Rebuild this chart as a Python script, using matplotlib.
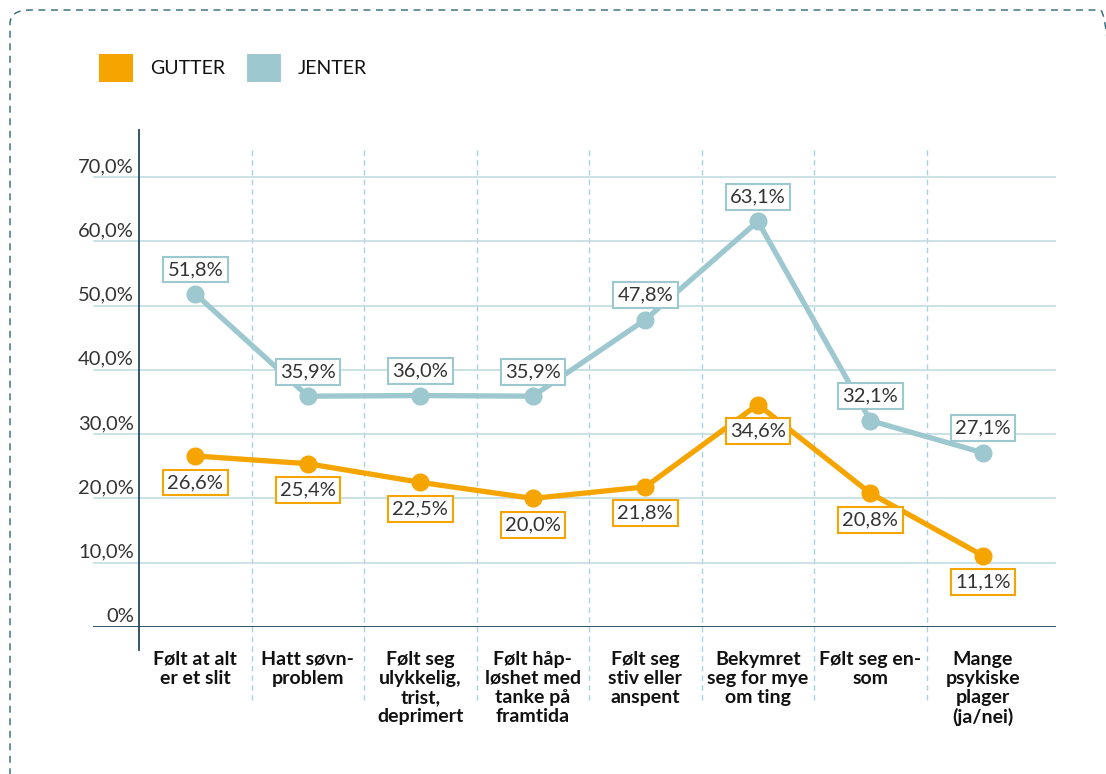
import numpy as np
import matplotlib
matplotlib.use("Agg")
import matplotlib.pyplot as plt
from matplotlib.patches import Rectangle, FancyBboxPatch
from matplotlib.transforms import ScaledTranslation

plt.rcParams['font.family'] = ['Lato', 'DejaVu Sans']

# ============================================================
# Data
# ============================================================

categories = [
    "Følt at alt\ner et slit",
    "Hatt søvn-\nproblem",
    "Følt seg\nulykkelig,\ntrist,\ndeprimert",
    "Følt håp-\nløshet med\ntanke på\nframtida",
    "Følt seg\nstiv eller\nanspent",
    "Bekymret\nseg for mye\nom ting",
    "Følt seg en-\nsom",
    "Mange\npsykiske\nplager\n(ja/nei)",
]
gutter = [26.6, 25.4, 22.5, 20.0, 21.8, 34.6, 20.8, 11.1]
jenter = [51.8, 35.9, 36.0, 35.9, 47.8, 63.1, 32.1, 27.1]
series_names = ["GUTTER", "JENTER"]
y_ticks = [0, 10, 20, 30, 40, 50, 60, 70]
y_tick_labels = ["0%", "10,0%", "20,0%", "30,0%", "40,0%", "50,0%", "60,0%", "70,0%"]

ORANGE = "#F6A500"
BLUE = "#9DC8CF"
DARK = "#24495A"
GRID = "#C3DDE3"
SEP = "#A9D3DB"
TXT = "#333333"

def fmt(v):
    return f"{v:.1f}%".replace(".", ",")

# ============================================================
# Figure
# ============================================================

W, H = 1106, 774
fig = plt.figure(figsize=(W / 100, H / 100), dpi=100)
ax = fig.add_axes([93 / W, 1 - 627 / H, (1056 - 93) / W, (627 - 130) / H])

x = np.arange(len(categories))
ax.set_xlim(-0.91, 7.65)
ax.set_ylim(0, 77.3)

for s in ax.spines.values():
    s.set_visible(False)

# grid + axes lines
ax.set_yticks(y_ticks, y_tick_labels)
ax.grid(axis="y", color=GRID, lw=1.2, zorder=0)
ax.axhline(0, color=DARK, lw=2, zorder=2)
ax.plot([-0.5, -0.5], [-3.6, 77.3], color=DARK, lw=1.3, clip_on=False, zorder=2)
for sx in x[:-1] + 0.5:
    ax.plot([sx, sx], [-11.4, 74.6], color=SEP, lw=1, ls=(0, (4, 3)),
            clip_on=False, zorder=1)

ax.tick_params(axis="y", length=0, pad=0, labelsize=14.5, labelcolor=TXT)
for lab in ax.get_yticklabels():
    lab.set_ha("right")
    lab.set_va("baseline")
    lab.set_transform(lab.get_transform() + ScaledTranslation(41 / 100, 5 / 100, fig.dpi_scale_trans))

ax.set_xticks(x, categories)
ax.tick_params(axis="x", length=0, pad=17, labelsize=14)
for lab in ax.get_xticklabels():
    lab.set_fontweight("bold")
    lab.set_linespacing(1.15)
    lab.set_va("top")
    lab.set_color("#111111")

# lines
ax.plot(x, jenter, color=BLUE, lw=3.8, marker="o", ms=12, zorder=3)
ax.plot(x, gutter, color=ORANGE, lw=3.8, marker="o", ms=12, zorder=3)

# value labels
for xi, v in zip(x, jenter):
    ax.annotate(fmt(v), (xi, v), xytext=(0, 16), textcoords="offset pixels",
                ha="center", va="bottom", fontsize=14.5, color=TXT, zorder=5,
                bbox=dict(boxstyle="square,pad=0.22", fc="white", ec=BLUE, lw=1.5))
for xi, v in zip(x, gutter):
    ax.annotate(fmt(v), (xi, v), xytext=(0, -18), textcoords="offset pixels",
                ha="center", va="top", fontsize=14.5, color=TXT, zorder=5,
                bbox=dict(boxstyle="square,pad=0.22", fc="white", ec=ORANGE, lw=1.5))

# legend
for (lx, tx), name, col in zip([(99, 150), (247, 298)], series_names, [ORANGE, BLUE]):
    fig.patches.append(Rectangle((lx / W, 1 - 82 / H), 34 / W, 28 / H,
                                 transform=fig.transFigure, fc=col, ec="none"))
    fig.text(tx / W, 1 - 68 / H, name, ha="left", va="center", fontsize=14,
             color="#111111")

# dashed border
fig.patches.append(FancyBboxPatch((10 / W, 1 - 790 / H), 1110 / W, 780 / H,
                                  boxstyle="round,pad=0,rounding_size=0.018",
                                  transform=fig.transFigure, fc="none", ec="#2E6475",
                                  lw=1, ls=(0, (5, 4))))

fig.savefig("out.png", dpi=100)
